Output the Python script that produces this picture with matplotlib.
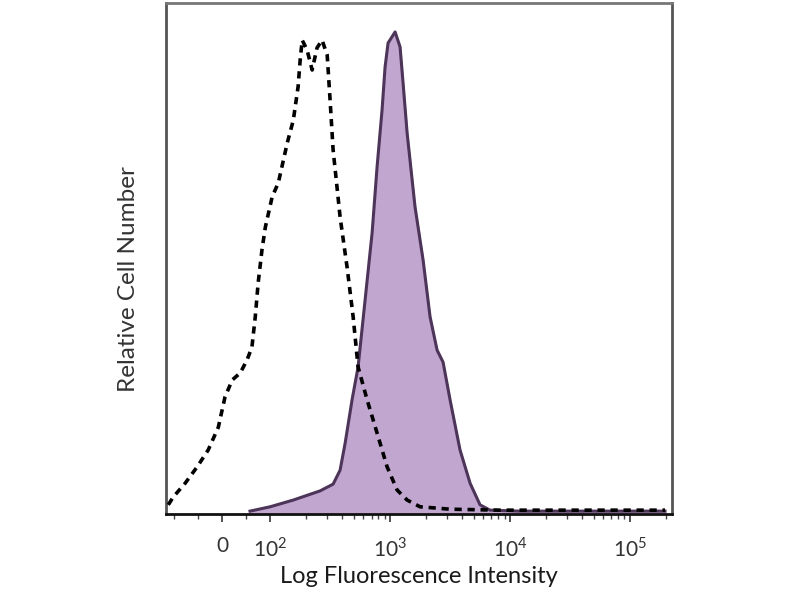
import numpy as np
import matplotlib
matplotlib.use('Agg')
import matplotlib.pyplot as plt
from matplotlib.ticker import FixedLocator

plt.rcParams['font.family'] = ['Lato', 'DejaVu Sans']
plt.rcParams['mathtext.fontset'] = 'custom'
plt.rcParams['mathtext.rm'] = 'Lato'

# isotype control (dashed outline)
ctrl_x = [-112, -102, -77, -52, -29, -8, 6, 21, 38, 52, 62, 69, 75, 83, 90, 104, 117,
          139, 156, 171, 178, 185, 203, 224, 246, 271, 299, 316, 335, 361, 383, 438,
          492, 541, 643, 779, 944, 1143, 1387, 1778, 3162, 8260, 26100, 195900]
ctrl_y = [1.9, 3.5, 6.4, 9.8, 13.3, 18.0, 24.3, 27.8, 29.3, 32.0, 34.6, 40.9, 47.9,
          54.8, 59.5, 65.8, 68.7, 77.0, 81.7, 88.6, 94.2, 98.3, 96.3, 92.1, 96.7, 98.3,
          95.2, 85.9, 75.5, 67.8, 61.6, 51.2, 40.9, 30.5, 23.7, 16.8, 9.8, 5.0, 2.9,
          1.5, 1.0, 0.8, 0.8, 0.8]

# stained sample (filled purple)
stain_x = [58, 100, 156, 261, 335, 383, 422, 482, 541, 619, 708, 779, 857, 908, 962,
           1101, 1211, 1283, 1387, 1614, 1884, 2154, 2465, 2765, 3162, 3828, 4642,
           5623, 6813, 12115, 195900]
stain_y = [0.6, 1.5, 2.9, 4.8, 6.2, 9.1, 14.7, 23.7, 30.5, 44.4, 58.3, 72.0, 83.8,
           92.7, 97.7, 100.0, 96.9, 89.4, 79.0, 63.7, 52.7, 40.9, 34.0, 31.5, 23.7,
           13.3, 6.4, 1.9, 0.8, 0.6, 0.6]

tick_vals = [0, 1e2, 1e3, 1e4, 1e5]
tick_labels = ['0', '$10^2$', '$10^3$', '$10^4$', '$10^5$']

fig = plt.figure(figsize=(8, 6), dpi=100)
ax = fig.add_axes([0.2075, 0.1433, 0.6325, 0.8517])

ax.set_xscale('symlog', linthresh=100, linscale=0.36)

ax.fill_between(stain_x, 0, stain_y, color='#c1a6d0', zorder=1)
ax.plot(stain_x, stain_y, color='#4d3459', lw=2.2, zorder=2)
ax.plot(ctrl_x, ctrl_y, color='black', lw=2.6, ls=(0, (2.0, 1.6)), zorder=3)

ax.set_xlim(-117, 2.24e5)
ax.set_ylim(0, 106)

ax.xaxis.set_major_locator(FixedLocator(tick_vals))
ax.set_xticklabels(tick_labels)
minors = [-100, -50, 50] + [m * 10 ** k for k in range(2, 6) for m in range(2, 10)
                            if m * 10 ** k < 2.24e5]
ax.xaxis.set_minor_locator(FixedLocator(minors))
ax.tick_params(axis='x', which='major', length=6, width=1.2, labelsize=15,
               colors='#333333', pad=10)
ax.tick_params(axis='x', which='minor', length=3.5, width=1.0, color='#444444')
ax.set_yticks([])

for side, col, lw in [('left', '#555555', 2.0), ('right', '#555555', 2.0),
                      ('top', '#777777', 2.0), ('bottom', '#111111', 2.0)]:
    ax.spines[side].set_color(col)
    ax.spines[side].set_linewidth(lw)

ax.set_xlabel('Log Fluorescence Intensity', fontsize=17, color='#1a1a1a', labelpad=4)
ax.set_ylabel('Relative Cell Number', fontsize=17.5, color='#333333')
ax.yaxis.set_label_coords(-0.053, 0.46)

fig.savefig('out.png', dpi=100)
